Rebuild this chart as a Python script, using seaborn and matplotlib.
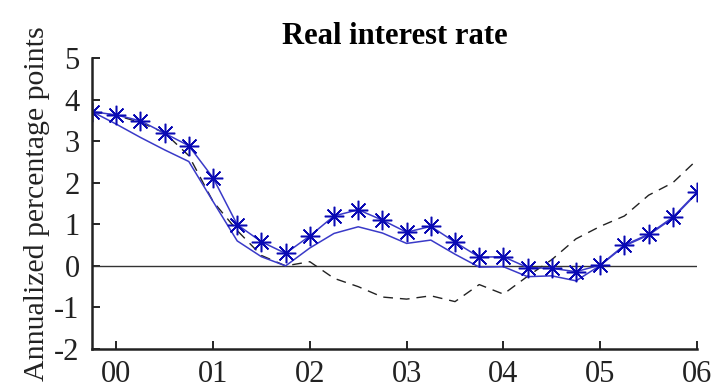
import pandas as pd
import seaborn as sns
import matplotlib.pyplot as plt
import numpy as np

# Quarterly observations (year fractions)
quarters = [1999.75, 2000.00, 2000.25, 2000.50, 2000.75, 2001.00, 2001.25, 2001.50, 2001.75,
            2002.00, 2002.25, 2002.50, 2002.75, 2003.00, 2003.25, 2003.50, 2003.75,
            2004.00, 2004.25, 2004.50, 2004.75, 2005.00, 2005.25, 2005.50, 2005.75, 2006.00]

# Series
actual = [3.71, 3.63, 3.49, 3.19, 2.89, 2.12, 0.99, 0.58, 0.30,
          0.72, 1.20, 1.35, 1.10, 0.81, 0.95, 0.57, 0.21,
          0.22, -0.04, -0.06, -0.14, 0.02, 0.50, 0.76, 1.17, 1.77]
model = [3.71, 3.41, 3.09, 2.79, 2.51, 1.55, 0.60, 0.22, 0.00,
         0.43, 0.78, 0.94, 0.79, 0.54, 0.62, 0.28, -0.03,
         -0.02, -0.26, -0.24, -0.36, 0.01, 0.48, 0.74, 1.15, 1.75]
counterfactual = [3.70, 3.62, 3.45, 3.20, 2.65, 1.55, 0.85, 0.25, 0.00,
                  0.10, -0.30, -0.50, -0.75, -0.80, -0.72, -0.86, -0.45,
                  -0.68, -0.25, 0.15, 0.65, 0.95, 1.20, 1.70, 2.00, 2.55]

year_ticks = [2000, 2001, 2002, 2003, 2004, 2005, 2006]
year_labels = ["00", "01", "02", "03", "04", "05", "06"]
y_ticks = [-2, -1, 0, 1, 2, 3, 4, 5]

df = pd.DataFrame({"quarter": quarters, "actual": actual,
                   "model": model, "counterfactual": counterfactual})

sns.set_style("ticks")
plt.rcParams['font.family'] = ['Liberation Serif', 'DejaVu Serif']
plt.rcParams['axes.unicode_minus'] = False
plt.rcParams['text.color'] = 'black'

fig = plt.figure(figsize=(7.16, 3.92), dpi=100)
ax = fig.add_axes([0.1285, 0.1097, 0.845, 0.7423])

ax.axhline(0, color="#333333", linewidth=1.0, zorder=1)
sns.lineplot(data=df, x="quarter", y="counterfactual", ax=ax, color="#222222",
             linewidth=1.0, linestyle=(0, (7, 5)))
sns.lineplot(data=df, x="quarter", y="model", ax=ax, color="#3a3ac8", linewidth=1.1)
sns.lineplot(data=df, x="quarter", y="actual", ax=ax, color="#3a3ac8", linewidth=1.1,
             marker=(8, 2, 0), markersize=14, markeredgecolor="#0a0ab4",
             markeredgewidth=1.1)

ax.set_xlim(1999.75, 2006)
ax.set_ylim(-2, 5)
ax.set_xticks(year_ticks)
ax.set_xticklabels(year_labels)
ax.set_yticks(y_ticks)
ax.tick_params(direction="in", length=6, width=1.2, labelsize=22, pad=8,
               colors="black", labelcolor="#222222")
ax.tick_params(axis="y", pad=9)
for s in ["left", "bottom"]:
    ax.spines[s].set_linewidth(1.8)
    ax.spines[s].set_color("#222222")
sns.despine(ax=ax)

ax.set_xlabel("")
ax.set_ylabel("Annualized percentage points", fontsize=21.5, labelpad=3, color="#222222")
ax.set_title("Real interest rate", fontsize=22, fontweight="bold", pad=10, color="black")

fig.savefig("out.png", dpi=100)
